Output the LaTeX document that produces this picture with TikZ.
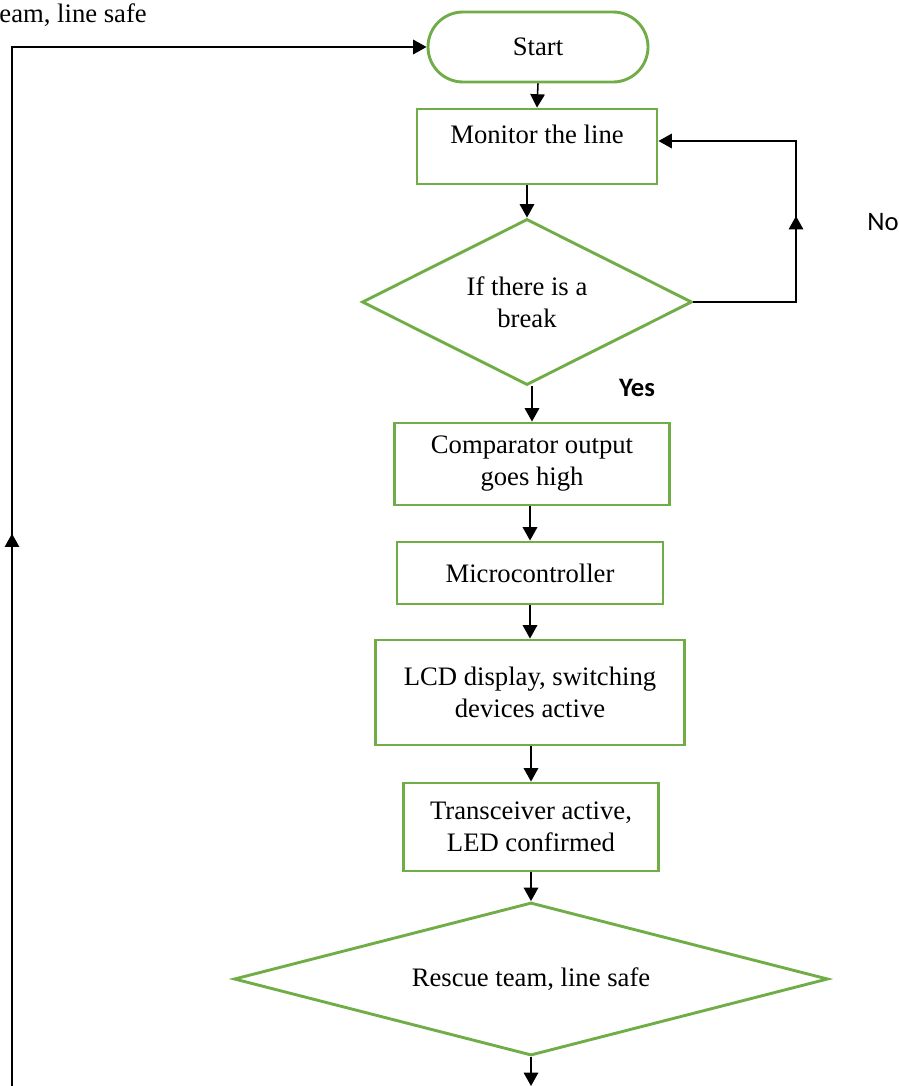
\documentclass[tikz,border=0pt]{standalone}
\usepackage{fontspec}
\setmainfont{Liberation Serif}
\newfontfamily\labelfont{Carlito}
\usetikzlibrary{shapes.geometric}
\usetikzlibrary{arrows.meta}
\usetikzlibrary{decorations.markings}
\definecolor{flowgreen}{RGB}{112,173,71}

\begin{document}
\begin{tikzpicture}[x=0.45pt,y=-0.45pt,
    every node/.style={font=\fontsize{12}{14.4}\selectfont},
    procbox/.style={draw=flowgreen,line width=1.3pt,rectangle,align=center,inner sep=2pt},
    decbox/.style={draw=flowgreen,line width=1.3pt,diamond,align=center,inner sep=1pt},
    termbox/.style={draw=flowgreen,line width=1.3pt,rectangle,rounded corners=15.75pt,align=center},
    flow/.style={-{Triangle[length=6pt,width=6.5pt]},line width=0.7pt},
    midarrow/.style={postaction={decorate},decoration={markings,
        mark=at position #1 with {\arrow{Triangle[length=6pt,width=6.5pt]}}}}]

    \useasboundingbox (0,0) rectangle (898,1086);

    % boxes
    \node[termbox,minimum width=99pt,minimum height=31.5pt] (start) at (538,47) {Start};
    \node[procbox,minimum width=108pt,minimum height=33.75pt,text depth=11pt] (mon) at (537,146.5) {Monitor the line};
    \node[decbox,aspect=2,minimum width=148.5pt,minimum height=74.7pt] (brk) at (527,302) {If there is a\\break};
    \node[procbox,minimum width=123.75pt,minimum height=36.9pt] (comp) at (532,464) {Comparator output\\goes high};
    \node[procbox,minimum width=119.7pt,minimum height=27.9pt] (micro) at (530,573) {Microcontroller};
    \node[procbox,minimum width=139pt,minimum height=47.25pt] (lcd) at (530,692.5) {LCD display, switching\\devices active};
    \node[procbox,minimum width=114.75pt,minimum height=39.6pt] (trans) at (531,827) {Transceiver active,\\LED confirmed};
    \node[decbox,aspect=3.9,minimum width=267.3pt,minimum height=68.85pt] (safe) at (531,979) {Rescue team, line safe};

    % labels
    \node[font=\labelfont\fontsize{12}{14.4}\selectfont] (nolbl) at (883,222) {No};
    \node[font=\labelfont\bfseries\fontsize{12}{14.4}\selectfont] (yeslbl) at (637,388) {Yes};
    \node[anchor=base west,inner sep=0pt] (cutlbl) at (-1,23) {eam, line safe};

    \coordinate (noturn) at (796,141);
    \coordinate (loopbot) at (12,1086);
    \coordinate (outbot) at (531,1086);

    % arrows
    \draw[flow] (start.south) -- (mon.north);
    \draw[flow] (brk.north |- mon.south) -- (brk.north);
    \draw[flow] (comp.north |- brk.south) -- (comp.north);
    \draw[flow] (micro.north |- comp.south) -- (micro.north);
    \draw[flow] (micro.south) -- (micro.south |- lcd.north);
    \draw[flow] (trans.north |- lcd.south) -- (trans.north);
    \draw[flow] (trans.south) -- (safe.north);
    \draw[flow] (safe.south) -- (outbot);
    \draw[flow,midarrow=0.47] (brk.east) -| (noturn) -- (noturn -| mon.east);
    \draw[flow,midarrow=0.38] (loopbot) |- (start.west);
\end{tikzpicture}
\end{document}
